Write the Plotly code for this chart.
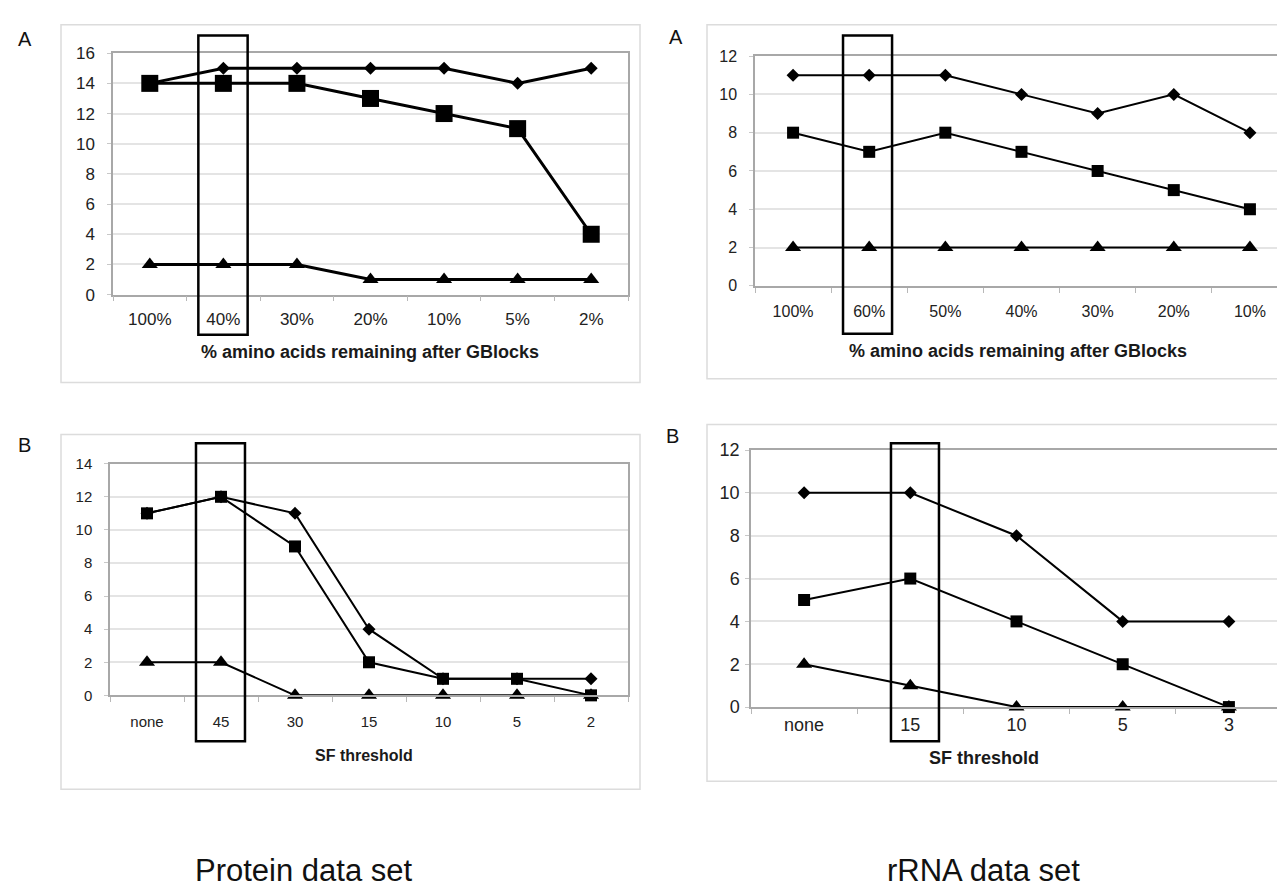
import plotly.graph_objects as go

W, H = 1285, 886

# ---------------- data ----------------
p1_cats = ["100%", "40%", "30%", "20%", "10%", "5%", "2%"]
p1_diamond = [14, 15, 15, 15, 15, 14, 15]
p1_square = [14, 14, 14, 13, 12, 11, 4]
p1_triangle = [2, 2, 2, 1, 1, 1, 1]

p2_cats = ["100%", "60%", "50%", "40%", "30%", "20%", "10%"]
p2_diamond = [11, 11, 11, 10, 9, 10, 8]
p2_square = [8, 7, 8, 7, 6, 5, 4]
p2_triangle = [2, 2, 2, 2, 2, 2, 2]

p3_cats = ["none", "45", "30", "15", "10", "5", "2"]
p3_diamond = [11, 12, 11, 4, 1, 1, 1]
p3_square = [11, 12, 9, 2, 1, 1, 0]
p3_triangle = [2, 2, 0, 0, 0, 0, 0]

p4_cats = ["none", "15", "10", "5", "3"]
p4_diamond = [10, 10, 8, 4, 4]
p4_square = [5, 6, 4, 2, 0]
p4_triangle = [2, 1, 0, 0, 0]

x_title_a = "% amino acids remaining after GBlocks"
x_title_b = "SF threshold"
caption_left = "Protein data set"
caption_right = "rRNA data set"


def px(x):
    return x / W


def py(y):
    return 1 - y / H


FONT = "Liberation Sans, Arial, sans-serif"

panels = [
    dict(cats=p1_cats, d=p1_diamond, s=p1_square, t=p1_triangle, ymax=16,
         plot=(105, 620, 36, 283), frame=(53, 632, 7, 373), box=(0.66, 1.33, 18, 324),
         label="A", lab=(17, 21), title=x_title_a, tpos=(362, 342),
         lw=3, msz=(10, 17, 14), xstand=8, ystand=9, tfs=17, ttl=18),
    dict(cats=p2_cats, d=p2_diamond, s=p2_square, t=p2_triangle, ymax=12,
         plot=(747, 1280, 39, 274), frame=(699, 1300, 7, 369), box=(0.656, 1.30, 18, 323),
         label="A", lab=(668, 19), title=x_title_a, tpos=(1010, 341),
         lw=2, msz=(10, 12, 14), xstand=10, ystand=9, tfs=16, ttl=18),
    dict(cats=p3_cats, d=p3_diamond, s=p3_square, t=p3_triangle, ymax=14,
         plot=(102, 620, 456, 693), frame=(53, 632, 426, 789), box=(0.662, 1.324, 435, 740),
         label="B", lab=(16, 437), title=x_title_b, tpos=(356, 755),
         lw=2, msz=(10, 12, 14), xstand=12, ystand=9, tfs=15, ttl=16),
    dict(cats=p4_cats, d=p4_diamond, s=p4_square, t=p4_triangle, ymax=12,
         plot=(743, 1274, 442, 705), frame=(699, 1300, 416, 781), box=(0.818, 1.27, 435, 740),
         label="B", lab=(664, 428), title=x_title_b, tpos=(976, 757),
         lw=2, msz=(10, 12, 14), xstand=1, ystand=2, tfs=18, ttl=18),
]

fig = go.Figure()
shapes = []
annotations = []
layout_axes = {}

for i, p in enumerate(panels, start=1):
    xa = "x" if i == 1 else f"x{i}"
    ya = "y" if i == 1 else f"y{i}"
    xk = "xaxis" if i == 1 else f"xaxis{i}"
    yk = "yaxis" if i == 1 else f"yaxis{i}"
    x0, x1, y0, y1 = p["plot"]

    # outer chart frame
    fx0, fx1, fy0, fy1 = p["frame"]
    shapes.append(dict(type="rect", xref="paper", yref="paper",
                       x0=px(fx0), x1=px(fx1), y0=py(fy1), y1=py(fy0),
                       line=dict(color="#dcdcdc", width=1.5), layer="below"))

    for vals, sym, sz in ((p["d"], "diamond", p["msz"][0]),
                          (p["s"], "square", p["msz"][1]),
                          (p["t"], "triangle-up", p["msz"][2])):
        fig.add_trace(go.Scatter(
            x=p["cats"], y=vals, mode="lines+markers",
            line=dict(color="black", width=p["lw"]),
            marker=dict(symbol=sym, size=sz, color="black", line=dict(width=0)),
            xaxis=xa, yaxis=ya, showlegend=False, cliponaxis=False))

    layout_axes[xk] = dict(
        domain=[px(x0), px(x1)], anchor=ya, type="category",
        range=[-0.5, len(p["cats"]) - 0.5],
        showline=True, linecolor="#a8a8a8", linewidth=1.5, mirror=True,
        showgrid=False, zeroline=False,
        ticks="outside", tickson="boundaries", ticklen=5, tickcolor="#b8b8b8",
        ticklabelstandoff=p["xstand"],
        tickfont=dict(family=FONT, size=p["tfs"], color="#222"), fixedrange=True)
    layout_axes[yk] = dict(
        domain=[py(y1), py(y0)], anchor=xa, range=[0, p["ymax"]],
        tickmode="linear", tick0=0, dtick=2,
        showline=True, linecolor="#a8a8a8", linewidth=1.5, mirror=True,
        showgrid=True, gridcolor="#e4e4e4", gridwidth=1.5, zeroline=False,
        ticks="outside", ticklen=4, tickcolor="#c8c8c8",
        ticklabelstandoff=p["ystand"],
        tickfont=dict(family=FONT, size=p["tfs"], color="#222"), fixedrange=True)

    # highlight box around the selected threshold
    bx0, bx1, by0, by1 = p["box"]
    shapes.append(dict(type="rect", xref=xa, yref="paper",
                       x0=bx0, x1=bx1, y0=py(by1), y1=py(by0),
                       line=dict(color="black", width=2.5), layer="above"))

    annotations.append(dict(text="<b>" + p["title"] + "</b>", xref="paper", yref="paper",
                            x=px(p["tpos"][0]), y=py(p["tpos"][1]),
                            xanchor="center", yanchor="middle", showarrow=False,
                            font=dict(family=FONT, size=p["ttl"], color="#1a1a1a")))
    annotations.append(dict(text=p["label"], xref="paper", yref="paper",
                            x=px(p["lab"][0]), y=py(p["lab"][1]),
                            xanchor="center", yanchor="middle", showarrow=False,
                            font=dict(family=FONT, size=20, color="#111")))

annotations.append(dict(text=caption_left, xref="paper", yref="paper",
                        x=px(296), y=py(872), xanchor="center", yanchor="middle",
                        showarrow=False, font=dict(family=FONT, size=31, color="#111")))
annotations.append(dict(text=caption_right, xref="paper", yref="paper",
                        x=px(975), y=py(872), xanchor="center", yanchor="middle",
                        showarrow=False, font=dict(family=FONT, size=31, color="#111")))

fig.update_layout(
    width=W, height=H, autosize=False,
    margin=dict(l=0, r=0, t=0, b=0),
    paper_bgcolor="white", plot_bgcolor="white",
    shapes=shapes, annotations=annotations,
    font=dict(family=FONT),
    **layout_axes)

fig.write_html("out.html", config={"displayModeBar": False})
